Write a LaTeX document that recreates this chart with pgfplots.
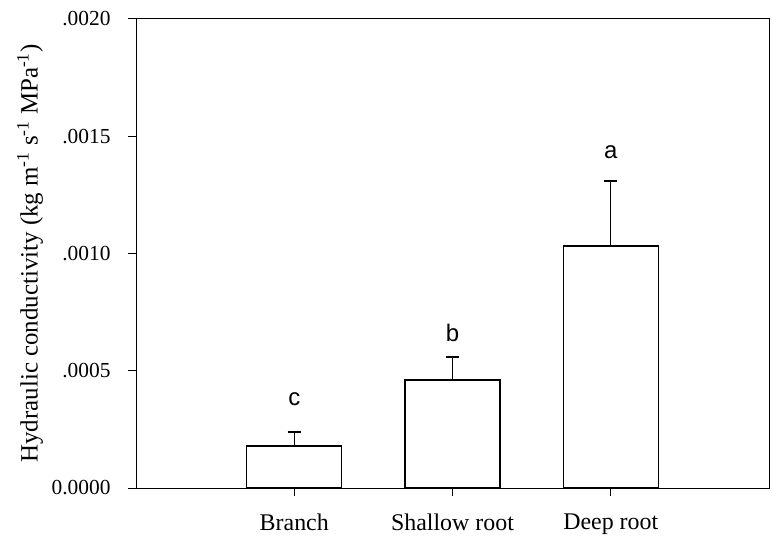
\documentclass[border=0pt]{standalone}
\usepackage{pgfplots}
\pgfplotsset{compat=1.18}
\usepackage{fontspec}
\setmainfont{Liberation Serif}
\newfontfamily\arialfont{Liberation Sans}
\begin{document}
\begin{tikzpicture}
\begin{axis}[
  scale only axis,
  width=633bp, height=469bp,
  xmin=-1, xmax=3, ymin=0, ymax=0.002,
  xtick={0,1,2},
  xticklabels={Branch,Shallow root,Deep root},
  ytick={0,0.0005,0.001,0.0015,0.002},
  yticklabels={0.0000,.0005,.0010,.0015,.0020},
  scaled y ticks=false,
  tick align=outside,
  major tick length=8bp,
  xtick pos=bottom, ytick pos=left,
  axis line style={line width=1pt},
  tick style={line width=1pt, black},
  xticklabel style={font=\fontsize{24}{28}\selectfont, yshift=-14bp},
  yticklabel style={font=\fontsize{21.5}{25}\selectfont, xshift=-14bp},
  ylabel={Hydraulic conductivity (kg m\textsuperscript{-1} s\textsuperscript{-1} MPa\textsuperscript{-1})},
  ylabel style={font=\fontsize{25}{30}\selectfont, at={(axis description cs:-0.1675,0.5)}, anchor=center},
  ybar, bar width=0.6,
  clip=false,
]
\addplot[fill=white, draw=black, line width=1.3pt,
  error bars/.cd, y dir=plus, y explicit,
  error mark=-, error mark options={mark size=6.5bp, line width=1.3pt, rotate=90},
  error bar style={line width=1.3pt}]
  coordinates {(0,0.000179) +- (0,0.000060)
               (1,0.000461) +- (0,0.000098)
               (2,0.001032) +- (0,0.000277)};
\node[anchor=base, font=\arialfont\fontsize{24}{28}\selectfont] at (axis cs:0,0.000350) {c};
\node[anchor=base, font=\arialfont\fontsize{24}{28}\selectfont] at (axis cs:1,0.000623) {b};
\node[anchor=base, font=\arialfont\fontsize{24}{28}\selectfont] at (axis cs:2,0.001403) {a};
\end{axis}
\pgfresetboundingbox
\path ([shift={(-136bp,-56bp)}]current axis.south west) rectangle ([shift={(4bp,19bp)}]current axis.north east);
\end{tikzpicture}
\end{document}
